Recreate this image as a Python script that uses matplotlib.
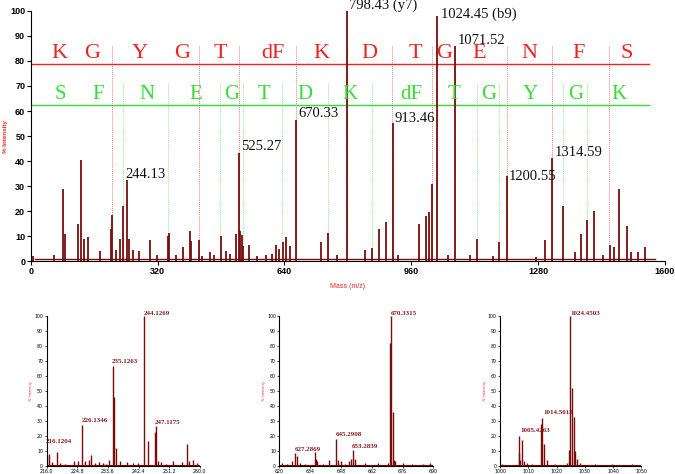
import numpy as np
import matplotlib.pyplot as plt

# main MS/MS spectrum: (m/z, % intensity)
main_mz = [6, 60, 82.6, 86.8, 118.8, 128.1, 134.9, 144.2, 175.4, 203.2, 205.7, 215.8,
           226.0, 234.0, 244.1, 247.0, 257.0, 273.3, 301.1, 319.6, 345.7, 349.2, 366.9,
           384.6, 402.3, 404.0, 424.2, 432.7, 451.2, 463.0, 479.0, 491.7, 502.6, 517.8,
           525.27, 528.9, 532.2, 536.4, 551.6, 571.8, 594.6, 609.8, 619.9, 627.5, 636.7,
           645.2, 653.6, 670.33, 732.4, 750.9, 772.0, 798.43, 843.3, 861.0, 878.6, 895.5,
           913.46, 927.0, 979.5, 997.2, 1005.5, 1013.2, 1024.45, 1053.5, 1071.52, 1107.5,
           1125.0, 1167.0, 1181.4, 1200.55, 1276.0, 1297.5, 1314.59, 1343.6, 1372.0,
           1389.0, 1402.5, 1421.0, 1445.0, 1461.5, 1472.5, 1484.0, 1505.0, 1514.5,
           1533.0, 1551.0]
main_int = [2.0, 2.5, 28.7, 11.0, 15.0, 40.5, 9.0, 9.5, 4.0, 13.0, 18.5, 4.5,
            9.0, 22.0, 32.5, 8.8, 4.5, 4.2, 8.5, 2.5, 10.2, 11.3, 2.5,
            5.5, 12.0, 8.0, 8.3, 2.0, 3.5, 2.5, 10.2, 4.0, 3.0, 10.8,
            43.3, 12.0, 10.5, 6.0, 6.5, 2.0, 2.5, 3.0, 6.5, 5.0, 7.5,
            9.8, 6.0, 56.3, 7.5, 11.3, 2.5, 100.0, 4.5, 5.3, 12.7, 15.5,
            55.3, 2.5, 15.0, 18.0, 19.8, 31.0, 98.0, 2.5, 86.0, 2.5,
            8.8, 2.0, 7.6, 34.0, 1.5, 8.5, 41.3, 22.0, 3.5,
            11.0, 16.5, 20.0, 2.5, 6.5, 5.5, 29.0, 14.0, 3.5,
            3.8, 5.5]
main_base_mz = [10, 1575]
main_base_int = [0.9, 0.9]

peak_labels = ['244.13', '525.27', '670.33', '798.43 (y7)', '913.46',
               '1024.45 (b9)', '1071.52', '1200.55', '1314.59']
label_mz = [240, 530, 675, 803, 918, 1035, 1077, 1207, 1321]
label_int = [34.5, 46, 59, 102.3, 57, 98.7, 88, 34, 43.5]

# b-ion (red) and y-ion (green) sequence ladders
red_seq = ['K', 'G', 'Y', 'G', 'T', 'dF', 'K', 'D', 'T', 'G', 'E', 'N', 'F', 'S']
red_seq_mz = [72, 154, 276, 381, 477.5, 612, 734, 854, 969.5, 1043.5, 1131, 1258, 1381.5, 1503.5]
red_cuts = [205, 424, 525.27, 670.33, 798.43, 911, 1013, 1071.52, 1200.55, 1314.59, 1460]
green_seq = ['S', 'F', 'N', 'E', 'G', 'T', 'D', 'K', 'dF', 'T', 'G', 'Y', 'G', 'K']
green_seq_mz = [74, 171, 293, 417, 507.5, 587.5, 692, 805.5, 961, 1068, 1155, 1259.5, 1376, 1483.5]
green_cuts = [233.6, 347, 477.5, 536.3, 633.2, 750.8, 861.7, 1024.2, 1125, 1182, 1343.6, 1402.6]
red_level, green_level = 78.6, 62.3
ladder_end = 1560

# zoomed insets
z1_mz = [216.12, 216.77, 217.7, 218.87, 219.8, 221.3, 223.84, 224.9, 226.13, 227.0, 228.05,
         228.9, 229.9, 231.0, 232.3, 233.2, 234.0, 234.95, 235.3, 235.9, 237.0, 239.0, 240.9,
         242.3, 243.93, 245.08, 247.0, 247.28, 248.1, 248.9, 250.4, 252.3, 255.0, 256.2,
         256.9, 258.1, 259.2]
z1_int = [6.7, 8.0, 2.5, 9.6, 2.0, 1.5, 3.0, 3.0, 27.6, 3.0, 4.0,
          7.1, 2.0, 2.5, 1.8, 1.5, 4.0, 66.7, 46.2, 12.0, 3.0, 2.5, 2.0,
          2.0, 100.0, 16.4, 23.0, 26.9, 3.0, 2.5, 1.5, 3.0, 2.5, 14.4,
          3.0, 4.0, 2.0]
z1_labels = ['216.1204', '226.1346', '235.1263', '244.1269', '247.1175']
z1_lab_mz = [215.7, 226.0, 234.7, 244.0, 247.1]
z1_lab_int = [16.2, 30.2, 69.6, 102, 28.9]
z1_ticks = [216.0, 224.8, 233.6, 242.4, 251.2, 260.0]

z2_mz = [621.1, 623.3, 625.6, 627.1, 627.9, 629.4, 631.7, 636.2, 636.7, 637.3, 640.0, 642.7,
         645.6, 646.8, 647.9, 649.8, 651.8, 652.4, 653.5, 654.4, 658.9, 664.7, 669.5,
         670.45, 670.76, 671.5, 672.1, 672.7, 676.4, 680.2, 685.5, 688.5]
z2_int = [2.0, 1.5, 3.0, 8.4, 7.0, 2.0, 1.5, 9.6, 4.5, 3.0, 1.5, 4.0,
          17.8, 4.0, 3.0, 1.5, 3.0, 5.0, 10.7, 5.0, 2.0, 2.0, 2.0,
          82.0, 100.0, 36.0, 4.0, 3.0, 2.0, 1.5, 1.5, 2.0]
z2_labels = ['627.2869', '645.2908', '653.2839', '670.3315']
z2_lab_mz = [627.1, 645.6, 653.0, 670.8]
z2_lab_int = [11, 20.7, 13.3, 102]
z2_ticks = [620, 634, 648, 662, 676, 690]

z3_mz = [1000.6, 1006.5, 1006.7, 1007.2, 1007.8, 1008.6, 1009.5, 1011.2, 1014.4, 1014.8,
         1015.7, 1016.5, 1019.5, 1023.6, 1024.35, 1024.6, 1025.5, 1026.0, 1026.5, 1027.2,
         1028.4, 1033.7, 1039.6, 1046.7]
z3_int = [1.5, 9.0, 20.0, 4.0, 17.3, 3.0, 2.0, 1.0, 27.8, 32.2,
          15.0, 4.0, 1.0, 2.0, 11.0, 100.0, 52.0, 33.0, 10.0, 5.0,
          2.0, 1.0, 1.0, 1.0]
z3_labels = ['1005.4263', '1014.5013', '1024.4503']
z3_lab_mz = [1007.1, 1015.4, 1024.8]
z3_lab_int = [23.5, 35.5, 102]
z3_ticks = [1000, 1010, 1020, 1030, 1040, 1050]

PEAK = '#7a0c0c'
RED = '#ee2222'
GREEN = '#33dd33'

fig = plt.figure(figsize=(6.75, 4.74), dpi=100)

# ---- main spectrum ----
ax = fig.add_axes([0.0455, 0.449, 0.9395, 0.528])
ax.plot(main_base_mz, main_base_int, color=PEAK, lw=1.0, zorder=3)
ax.vlines(main_mz, 0, main_int, color=PEAK, lw=1.3, zorder=3)
ax.vlines(red_cuts, 0, 86, color='#f08080', lw=0.7, linestyles=(0, (1, 1)), zorder=1)
ax.vlines(green_cuts, 0, 71, color='#90ee90', lw=0.7, linestyles=(0, (1, 1)), zorder=1)
ax.plot([0, ladder_end], [red_level, red_level], color=RED, lw=1.0, zorder=2)
ax.plot([0, ladder_end], [green_level, green_level], color=GREEN, lw=1.0, zorder=2)
for s, m in zip(red_seq, red_seq_mz):
    ax.text(m, red_level + 0.6, s, color=RED, fontsize=16, family='Liberation Serif',
            ha='center', va='bottom', zorder=4)
for s, m in zip(green_seq, green_seq_mz):
    ax.text(m, green_level + 0.6, s, color=GREEN, fontsize=15, family='Liberation Serif',
            ha='center', va='bottom', zorder=4)
for s, m, h in zip(peak_labels, label_mz, label_int):
    ax.text(m, h, s, fontsize=10.5, family='Liberation Serif', color='#111111',
            ha='left', va='center', clip_on=False, zorder=5)

ax.set_xlim(0, 1600)
ax.set_ylim(0, 100)
ax.set_xticks([0, 320, 640, 960, 1280, 1600])
ax.set_yticks(np.arange(0, 101, 10))
for sp in ['top', 'right']:
    ax.spines[sp].set_visible(False)
ax.tick_params(labelsize=6.5, length=3, width=0.8, pad=1)
for t in ax.get_xticklabels() + ax.get_yticklabels():
    t.set_fontweight('bold')
    t.set_family('Liberation Sans')
ax.set_xlabel('Mass (m/z)', color=RED, fontsize=5, family='Liberation Sans', labelpad=5)
ax.set_ylabel('% Intensity', color=RED, fontsize=4.5, family='Liberation Sans',
              fontweight='bold')
ax.yaxis.set_label_coords(-0.036, 0.5)


def inset(rect, mz, inten, labels, lab_mz, lab_int, ticks, tick_fmt):
    a = fig.add_axes(rect)
    a.plot([ticks[0], ticks[-1]], [0.6, 0.6], color=PEAK, lw=0.8)
    a.vlines(mz, 0, inten, color=PEAK, lw=1.0)
    for s, m, h in zip(labels, lab_mz, lab_int):
        a.text(m, h, s, fontsize=5, family='Liberation Serif', fontweight='bold',
               color='#8b1a1a', ha='left', va='center', clip_on=False)
    a.set_xlim(ticks[0], ticks[-1])
    a.set_ylim(0, 100)
    a.set_xticks(ticks)
    a.set_xticklabels([tick_fmt.format(t) for t in ticks])
    a.set_yticks(np.arange(0, 101, 10))
    for sp in ['top', 'right']:
        a.spines[sp].set_visible(False)
    a.spines['left'].set_linewidth(0.8)
    a.spines['bottom'].set_linewidth(0.8)
    a.tick_params(labelsize=3.4, length=1.5, width=0.5, pad=1)
    a.set_ylabel('% Intensity', color=RED, fontsize=2.5)
    a.yaxis.set_label_coords(-0.09, 0.5)
    return a


inset([0.069, 0.0169, 0.227, 0.316], z1_mz, z1_int, z1_labels, z1_lab_mz, z1_lab_int,
      z1_ticks, '{:.1f}')
inset([0.414, 0.0169, 0.228, 0.316], z2_mz, z2_int, z2_labels, z2_lab_mz, z2_lab_int,
      z2_ticks, '{:d}')
inset([0.741, 0.0169, 0.209, 0.316], z3_mz, z3_int, z3_labels, z3_lab_mz, z3_lab_int,
      z3_ticks, '{:d}')

fig.savefig('out.png', dpi=100)
